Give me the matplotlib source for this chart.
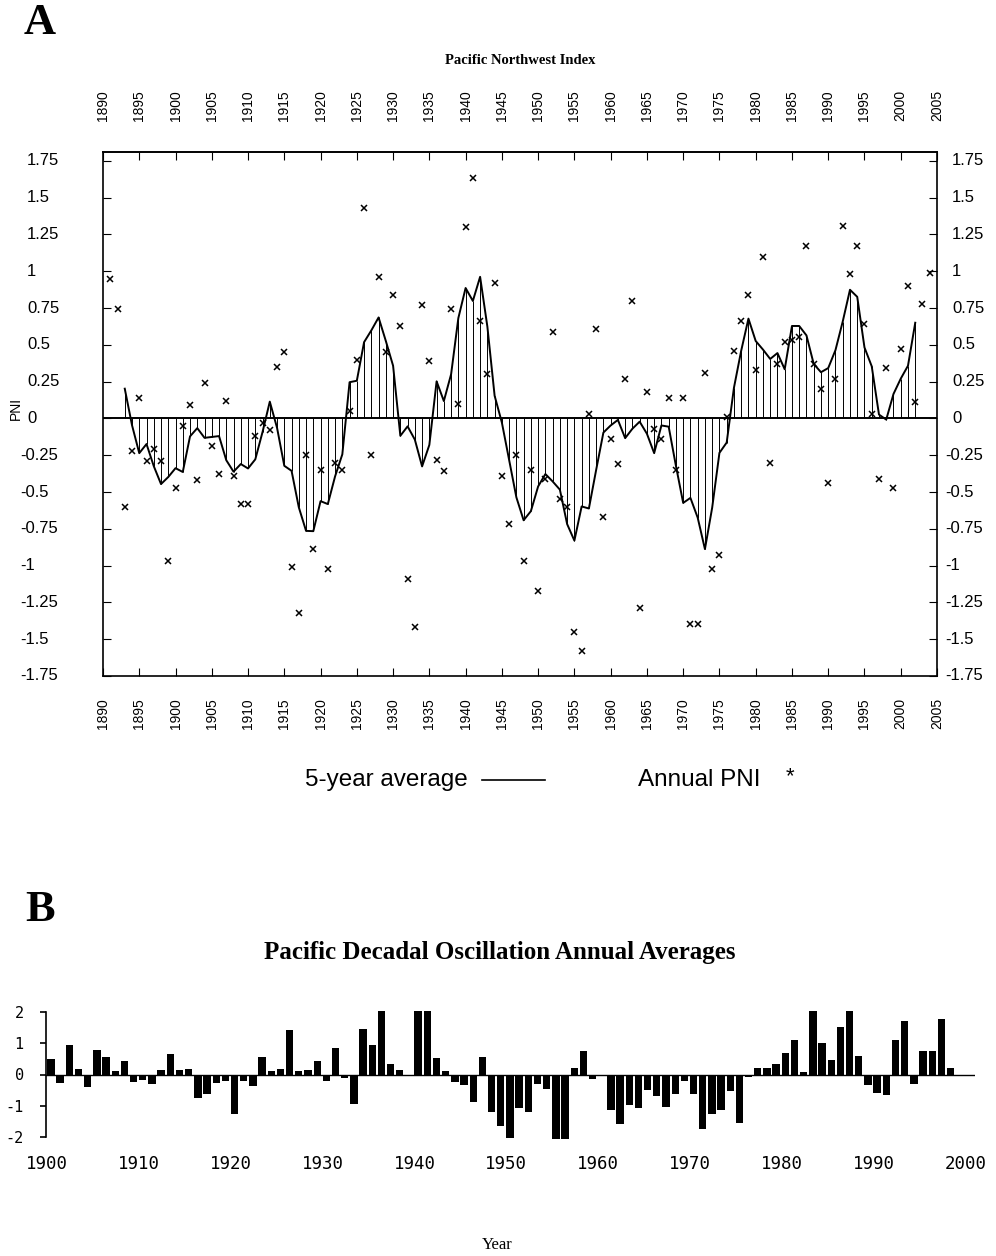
import matplotlib.pyplot as plt
from matplotlib.lines import Line2D
from matplotlib.transforms import blended_transform_factory

plt.rcParams['font.family'] = ['Liberation Sans', 'DejaVu Sans']
plt.rcParams['axes.unicode_minus'] = False

# Annual Pacific Northwest Index, 1891-2004
pni_years = list(range(1891, 2005))
pni_annual = [
    0.95, 0.74, -0.60, -0.22, 0.14, -0.29, -0.21, -0.29, -0.97,          # 1891-1899
    -0.47, -0.05, 0.09, -0.42, 0.24, -0.19, -0.38, 0.12, -0.39, -0.58,   # 1900s
    -0.58, -0.12, -0.03, -0.08, 0.35, 0.45, -1.01, -1.32, -0.25, -0.89,  # 1910s
    -0.35, -1.02, -0.30, -0.35, 0.05, 0.40, 1.43, -0.25, 0.96, 0.45,     # 1920s
    0.84, 0.63, -1.09, -1.42, 0.77, 0.39, -0.28, -0.36, 0.74, 0.10,      # 1930s
    1.30, 1.63, 0.66, 0.30, 0.92, -0.39, -0.72, -0.25, -0.97, -0.35,     # 1940s
    -1.17, -0.41, 0.59, -0.55, -0.60, -1.45, -1.58, 0.03, 0.61, -0.67,   # 1950s
    -0.14, -0.31, 0.27, 0.80, -1.29, 0.18, -0.07, -0.14, 0.14, -0.35,    # 1960s
    0.14, -1.40, -1.40, 0.31, -1.02, -0.93, 0.01, 0.46, 0.66, 0.84,      # 1970s
    0.33, 1.10, -0.30, 0.37, 0.52, 0.53, 0.55, 1.17, 0.37, 0.20,         # 1980s
    -0.44, 0.27, 1.31, 0.98, 1.17, 0.64, 0.03, -0.41, 0.34, -0.47,       # 1990s
    0.47, 0.90, 0.11, 0.78, 0.99,                                        # 2000-2004
]

# Centred 5-year average, 1893-2002
avg_years = list(range(1893, 2003))
pni_5yr = [
    0.202, -0.046, -0.236, -0.174, -0.324, -0.446, -0.398,
    -0.338, -0.364, -0.122, -0.066, -0.132, -0.126, -0.120, -0.284, -0.362, -0.310,
    -0.340, -0.278, -0.092, 0.114, -0.064, -0.322, -0.356, -0.604, -0.764, -0.766,
    -0.562, -0.582, -0.394, -0.244, 0.246, 0.256, 0.518, 0.598, 0.686, 0.526,
    0.358, -0.118, -0.054, -0.144, -0.326, -0.180, 0.252, 0.118, 0.300, 0.682,
    0.886, 0.798, 0.962, 0.624, 0.154, -0.028, -0.282, -0.536, -0.692, -0.630,
    -0.462, -0.378, -0.428, -0.484, -0.718, -0.830, -0.598, -0.612, -0.350, -0.096,
    -0.048, -0.010, -0.134, -0.070, -0.022, -0.104, -0.236, -0.048, -0.056, -0.322,
    -0.574, -0.540, -0.674, -0.888, -0.606, -0.234, -0.164, 0.208, 0.460, 0.678,
    0.526, 0.468, 0.404, 0.444, 0.334, 0.628, 0.628, 0.564, 0.370, 0.314,
    0.342, 0.464, 0.658, 0.874, 0.826, 0.482, 0.354, 0.026, -0.008, 0.166,
    0.270, 0.358, 0.650,
]

pni_ticks = [1.75, 1.5, 1.25, 1, 0.75, 0.5, 0.25, 0, -0.25, -0.5, -0.75, -1, -1.25, -1.5, -1.75]
pni_tick_labels = ['1.75', '1.5', '1.25', '1', '0.75', '0.5', '0.25', '0',
                   '-0.25', '-0.5', '-0.75', '-1', '-1.25', '-1.5', '-1.75']

# Pacific Decadal Oscillation annual averages, 1900-1999
pdo_years = list(range(1900, 2000))
pdo_annual = [
    0.51, -0.26, 0.93, 0.17, -0.40, 0.77, 0.57, 0.11, 0.43, -0.24,       # 1900s
    -0.18, -0.30, 0.14, 0.66, 0.15, 0.18, -0.74, -0.63, -0.26, -0.22,    # 1910s
    -1.26, -0.21, -0.37, 0.55, 0.12, 0.18, 1.43, 0.12, 0.16, 0.44,       # 1920s
    -0.21, 0.86, -0.12, -0.96, 1.45, 0.95, 2.05, 0.33, 0.15, 0.0,        # 1930s
    2.05, 2.05, 0.52, 0.10, -0.24, -0.34, -0.87, 0.55, -1.21, -1.65,     # 1940s
    -2.04, -1.07, -1.21, -0.30, -0.48, -2.06, -2.06, 0.21, 0.75, -0.13,  # 1950s
    0.0, -1.14, -1.58, -0.98, -1.09, -0.50, -0.70, -1.05, -0.63, -0.21,  # 1960s
    -0.63, -1.75, -1.27, -1.15, -0.54, -1.54, -0.09, 0.21, 0.21, 0.35,   # 1970s
    0.68, 1.10, 0.07, 2.05, 1.00, 0.48, 1.52, 2.05, 0.60, -0.35,         # 1980s
    -0.58, -0.66, 1.10, 1.73, -0.32, 0.74, 0.74, 1.78, 0.21, 0.0,        # 1990s
]

W, H = 996, 1256
fig = plt.figure(figsize=(W / 100, H / 100), dpi=100)
serif = ['Liberation Serif', 'DejaVu Serif']


def fx(px):
    return px / W


def fy(py):
    return 1 - py / H


# ---- Panel A: Pacific Northwest Index ----
ax = fig.add_axes([fx(103), fy(676), fx(937 - 103), (676 - 152) / H])
ax.axhline(0, color='black', lw=1.4, zorder=3)
ax.vlines(avg_years, 0, pni_5yr, colors='black', lw=0.7)
ax.plot(avg_years, pni_5yr, color='black', lw=1.4)
ax.plot(pni_years, pni_annual, ls='none', marker='x', ms=3.8, mew=1.1, color='black')

ax.set_xlim(1890, 2005)
ax.set_ylim(-1.75, 1.81)
year_ticks = list(range(1890, 2006, 5))
ax.set_xticks(year_ticks)
ax.tick_params(axis='x', direction='in', top=False, bottom=True, labelbottom=True,
               labelrotation=90, length=6, labelsize=10, pad=16)
top = ax.secondary_xaxis('top')
top.set_xticks(year_ticks)
top.tick_params(direction='in', length=6, labelsize=10, labelrotation=90, pad=22)
top.spines['top'].set_linewidth(1.2)

ax.set_yticks(pni_ticks)
ax.set_yticklabels([])
ax.tick_params(axis='y', direction='in', left=True, right=True, length=6)
for sp in ax.spines.values():
    sp.set_linewidth(1.2)

trans = blended_transform_factory(ax.transAxes, ax.transData)
ax_w = 937 - 103
for v, lab in zip(pni_ticks, pni_tick_labels):
    neg = lab.startswith('-')
    xl = (20 if neg else 27) - 103
    xr = (945 if neg else 952) - 103
    ax.text(xl / ax_w, v, lab, transform=trans, ha='left', va='center', fontsize=12)
    ax.text(xr / ax_w, v, lab, transform=trans, ha='left', va='center', fontsize=12)

fig.text(fx(16), fy(408), 'PNI', rotation=90, ha='center', va='center', fontsize=10)
fig.text(fx(24), fy(23), 'A', family=serif, weight='bold', fontsize=32, ha='left', va='center')
fig.text(fx(520), fy(61), 'Pacific Northwest Index', family=serif, weight='bold',
         fontsize=10.5, ha='center', va='center')

# legend row drawn as plain text and a short rule
fig.text(fx(305), fy(780), '5-year average', fontsize=17.5, ha='left', va='center')
fig.add_artist(Line2D([fx(482), fx(545)], [fy(780), fy(780)], color='black', lw=1.2))
fig.text(fx(638), fy(780), 'Annual PNI', fontsize=17.5, ha='left', va='center')
fig.text(fx(790), fy(777), '*', fontsize=16, ha='center', va='center')

# ---- Panel B: PDO annual averages ----
bx = fig.add_axes([fx(46), fy(1140), fx(975 - 46), 131 / H])
bx.bar(pdo_years, pdo_annual, width=0.8, align='edge', color='black')
bx.axhline(0, color='black', lw=1.0)
bx.set_xlim(1899.86, 2001.06)
bx.set_ylim(-2.1, 2.1)
for side in ('top', 'right', 'bottom'):
    bx.spines[side].set_visible(False)
bx.spines['left'].set_bounds(-2, 2)
bx.spines['left'].set_linewidth(1.2)
bx.set_yticks([-2, -1, 0, 1, 2])
bx.set_yticklabels(['-2', '-1', '0', '1', '2'], family='DejaVu Sans Mono', fontsize=11)
bx.tick_params(axis='y', direction='out', length=4, width=1.2, pad=12)
bx.set_xticks(range(1900, 2001, 10))
bx.set_xticklabels([str(y) for y in range(1900, 2001, 10)], family='DejaVu Sans Mono', fontsize=12.5)
bx.tick_params(axis='x', length=0, pad=11)

fig.text(fx(25), fy(910), 'B', family=serif, weight='bold', fontsize=32, ha='left', va='center')
fig.text(fx(500), fy(953), 'Pacific Decadal Oscillation Annual Averages', family=serif,
         weight='bold', fontsize=18, ha='center', va='center')
fig.text(fx(497), fy(1245), 'Year', family=serif, fontsize=12, ha='center', va='center')

fig.savefig('out.png', dpi=100)
